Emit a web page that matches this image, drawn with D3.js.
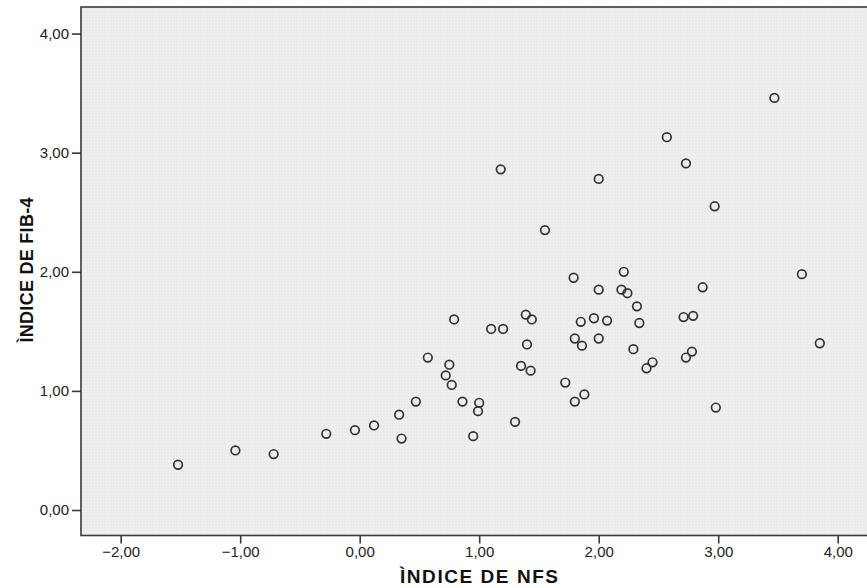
<!DOCTYPE html>
<html>
<head>
<meta charset="utf-8">
<script src="https://cdn.jsdelivr.net/npm/d3@7"></script>
<style>
  body { margin: 0; background: #fff; }
  text { font-family: "Liberation Sans", Arial, sans-serif; }
</style>
</head>
<body>
<div id="main"></div>
<script>
// NFS index (x) and FIB-4 index (y)
var nfs = [-1.52, -1.04, -0.72, -0.28, -0.04, 0.12, 0.33, 0.35, 0.47, 0.57,
           0.72, 0.75, 0.77, 0.79, 0.86, 1.00, 0.99, 0.95, 1.18, 1.10,
           1.20, 1.30, 1.39, 1.44, 1.40, 1.35, 1.43, 1.55, 1.72, 1.79,
           1.80, 1.85, 1.86, 1.80, 1.88, 2.00, 1.96, 2.00, 2.00, 2.07,
           2.21, 2.19, 2.24, 2.32, 2.34, 2.29, 2.45, 2.40, 2.57, 2.73,
           2.71, 2.79, 2.87, 2.97, 2.78, 2.73, 2.98, 3.47, 3.70, 3.85];
var fib4 = [0.38, 0.50, 0.47, 0.64, 0.67, 0.71, 0.80, 0.60, 0.91, 1.28,
            1.13, 1.22, 1.05, 1.60, 0.91, 0.90, 0.83, 0.62, 2.86, 1.52,
            1.52, 0.74, 1.64, 1.60, 1.39, 1.21, 1.17, 2.35, 1.07, 1.95,
            1.44, 1.58, 1.38, 0.91, 0.97, 2.78, 1.61, 1.85, 1.44, 1.59,
            2.00, 1.85, 1.82, 1.71, 1.57, 1.35, 1.24, 1.19, 3.13, 2.91,
            1.62, 1.63, 1.87, 2.55, 1.33, 1.28, 0.86, 3.46, 1.98, 1.40];

var xTicks = [-2, -1, 0, 1, 2, 3, 4];
var yTicks = [0, 1, 2, 3, 4];
var xTitle = "ÌNDICE DE NFS";
var yTitle = "ÌNDICE DE FIB-4";

var width = 867;
var height = 588;
var fmt = function(v) { return d3.format(".2f")(v).replace(".", ","); };

var svg = d3.select('#main')
  .append('svg')
  .attr('width', width)
  .attr('height', height);

// plot frame: left 81, top 7, bottom 535.5, right runs off the picture
var x = d3.scaleLinear()
  .domain([-2.332, 4.27])
  .range([81, 870]);

var y = d3.scaleLinear()
  .domain([-0.214, 4.223])
  .range([535.5, 7]);

// dotted grey fill like the SPSS chart background
var defs = svg.append('defs');
var pat = defs.append('pattern')
  .attr('id', 'dots')
  .attr('width', 3)
  .attr('height', 3)
  .attr('patternUnits', 'userSpaceOnUse');
pat.append('rect').attr('width', 3).attr('height', 3).attr('fill', '#ececec');
pat.append('rect').attr('x', 1).attr('y', 1).attr('width', 1).attr('height', 1).attr('fill', '#f6f6f6');

svg.append('rect')
  .attr('x', x.range()[0])
  .attr('y', y.range()[1])
  .attr('width', x.range()[1] - x.range()[0])
  .attr('height', y.range()[0] - y.range()[1])
  .attr('fill', 'url(#dots)')
  .attr('stroke', '#3a3a3a')
  .attr('stroke-width', 1.6);

// axes
var xAxis = svg.append('g')
  .attr('transform', 'translate(0,' + y.range()[0] + ')')
  .call(d3.axisBottom(x).tickValues(xTicks).tickFormat(fmt).tickSize(8).tickPadding(3));

var yAxis = svg.append('g')
  .attr('transform', 'translate(' + x.range()[0] + ',0)')
  .call(d3.axisLeft(y).tickValues(yTicks).tickFormat(fmt).tickSize(9).tickPadding(3));

[xAxis, yAxis].forEach(function(g) {
  g.select('.domain').remove();
  g.selectAll('.tick line').attr('stroke', '#3a3a3a').attr('stroke-width', 1.6);
  g.selectAll('.tick text')
    .attr('fill', '#222')
    .style('font-size', '15px')
    .style('font-family', '"Liberation Sans", Arial, sans-serif');
});

// points
svg.append('g')
  .selectAll('circle')
  .data(nfs.map(function(d, i) { return [d, fib4[i]]; }))
  .enter().append('circle')
  .attr('cx', function(d) { return x(d[0]); })
  .attr('cy', function(d) { return y(d[1]); })
  .attr('r', 4.3)
  .attr('fill', 'none')
  .attr('stroke', '#333')
  .attr('stroke-width', 1.7);

// axis titles
svg.append('text')
  .attr('x', 479)
  .attr('y', 583)
  .attr('text-anchor', 'middle')
  .attr('font-weight', 'bold')
  .attr('font-size', 19)
  .attr('textLength', 158)
  .attr('fill', '#111')
  .text(xTitle);

svg.append('text')
  .attr('transform', 'translate(33,270) rotate(-90)')
  .attr('text-anchor', 'middle')
  .attr('font-weight', 'bold')
  .attr('font-size', 18)
  .attr('textLength', 145)
  .attr('fill', '#111')
  .text(yTitle);
</script>
</body>
</html>
